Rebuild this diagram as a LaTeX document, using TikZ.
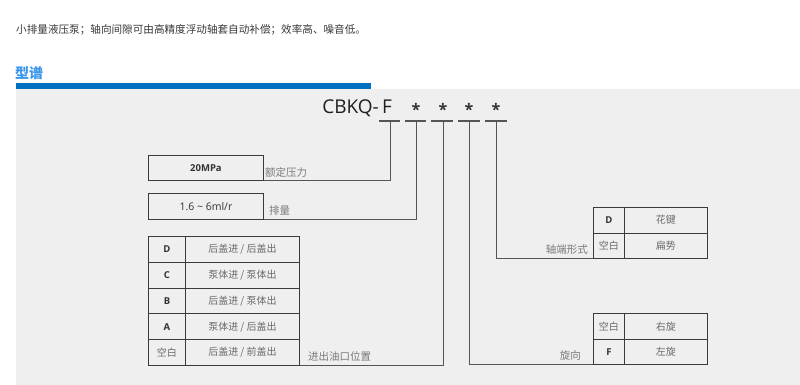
\documentclass[tikz,border=0pt]{standalone}
\usepackage{fontspec}
\setmainfont{Open Sans}
\newfontfamily\cjk{Noto Sans CJK SC}
\definecolor{bggray}{HTML}{EFEFEF}
\definecolor{barblue}{HTML}{0070C0}
\definecolor{titleblue}{HTML}{3A96EA}
\definecolor{linecol}{HTML}{3A3A3A}
\definecolor{vlinecol}{HTML}{555555}
\definecolor{lblcol}{HTML}{7A7A7A}
\definecolor{celltxt}{HTML}{6A6A6A}
\definecolor{lettxt}{HTML}{333333}
\tikzset{
  cell/.style={draw=linecol, line width=0.9pt, inner sep=0pt, anchor=north west, minimum height=25.8pt},
  celltext/.style={font=\cjk\fontsize{10}{12}\selectfont, text=celltxt},
  lettext/.style={font=\fontsize{9.5}{12}\selectfont\bfseries, text=lettxt},
  lbl/.style={font=\cjk\fontsize{10.5}{12}\selectfont, text=lblcol, inner sep=0pt},
  conn/.style={draw=vlinecol, line width=1pt},
  uline/.style={draw=vlinecol, line width=1.2pt},
  star/.style={font=\fontsize{16}{16}\selectfont\bfseries, text=lettxt, inner sep=0pt}
}
\begin{document}
\begin{tikzpicture}[x=1pt,y=-1pt]
\useasboundingbox (0,0) rectangle (800,385);
\fill[white] (0,0) rectangle (800,385);
% gray panel
\fill[bggray] (16,89) rectangle (800,385);
% blue bar
\fill[barblue] (16,83) rectangle (371,89);
% header texts
\node[anchor=west, inner sep=0pt, font=\cjk\fontsize{10.6}{12}\selectfont, text=black!78] (intro) at (16,30) {小排量液压泵；轴向间隙可由高精度浮动轴套自动补偿；效率高、噪音低。};
\node[anchor=west, inner sep=0pt, font=\cjk\fontsize{14}{16}\selectfont\bfseries, text=titleblue] (title) at (15,73) {型谱};
% model code
\node[anchor=east, inner sep=0pt, font=\fontsize{19}{20}\selectfont, text=black!88] (code) at (392,108) {CBKQ-\,F};
\node[star] (st1) at (416,109) {*};
\node[star] (st2) at (443,109) {*};
\node[star] (st3) at (469,109) {*};
\node[star] (st4) at (496,109) {*};
% underline segments
\coordinate (a1) at (379,121); \coordinate (b1) at (400,121);
\coordinate (a2) at (405,121); \coordinate (b2) at (426,121);
\coordinate (a3) at (431,121); \coordinate (b3) at (453,121);
\coordinate (a4) at (458,121); \coordinate (b4) at (480,121);
\coordinate (a5) at (485,121); \coordinate (b5) at (507,121);
\foreach \i in {1,...,5} \draw[uline] (a\i) -- (b\i);
\coordinate (u1) at (390,121);
\coordinate (u2) at (416,121);
\coordinate (u3) at (443,121);
\coordinate (u4) at (469,121);
\coordinate (u5) at (496,121);
% pressure box
\node[cell, minimum width=115pt, minimum height=25pt, font=\fontsize{9.5}{10}\selectfont\bfseries, text=lettxt] (pbox) at (148,155) {20MPa};
\node[lbl, anchor=west] (plbl) at (265,172) {额定压力};
% displacement box
\node[cell, minimum width=115pt, minimum height=26pt, font=\fontsize{10.5}{12}\selectfont, text=lettxt] (dbox) at (148,193) {1.6 \textasciitilde\ 6ml/r};
\node[lbl, anchor=west] (dlbl) at (269,211) {排量};
% port table
\node[cell, minimum width=37pt, lettext] (pk1) at (148,236) {D};
\node[cell, minimum width=114pt, celltext] (pv1) at (185,236) {后盖进 / 后盖出};
\node[cell, minimum width=37pt, lettext] (pk2) at (148,261.8) {C};
\node[cell, minimum width=114pt, celltext] (pv2) at (185,261.8) {泵体进 / 泵体出};
\node[cell, minimum width=37pt, lettext] (pk3) at (148,287.6) {B};
\node[cell, minimum width=114pt, celltext] (pv3) at (185,287.6) {后盖进 / 泵体出};
\node[cell, minimum width=37pt, lettext] (pk4) at (148,313.4) {A};
\node[cell, minimum width=114pt, celltext] (pv4) at (185,313.4) {泵体进 / 后盖出};
\node[cell, minimum width=37pt, celltext] (pk5) at (148,339.2) {空白};
\node[cell, minimum width=114pt, celltext] (pv5) at (185,339.2) {后盖进 / 前盖出};
\node[lbl, anchor=west] (portlbl) at (308,356) {进出油口位置};
% shaft table
\node[cell, minimum width=31pt, minimum height=25.5pt, lettext] (sk1) at (593,207) {D};
\node[cell, minimum width=83pt, minimum height=25.5pt, celltext] (sv1) at (624,207) {花键};
\node[cell, minimum width=31pt, minimum height=25.5pt, celltext] (sk2) at (593,232.5) {空白};
\node[cell, minimum width=83pt, minimum height=25.5pt, celltext] (sv2) at (624,232.5) {扁势};
\node[lbl, anchor=east] (shaftlbl) at (588,250) {轴端形式};
% rotation table
\node[cell, minimum width=31pt, minimum height=25.5pt, celltext] (rk1) at (593,313) {空白};
\node[cell, minimum width=83pt, minimum height=25.5pt, celltext] (rv1) at (624,313) {右旋};
\node[cell, minimum width=31pt, minimum height=25.5pt, lettext] (rk2) at (593,338.5) {F};
\node[cell, minimum width=83pt, minimum height=25.5pt, celltext] (rv2) at (624,338.5) {左旋};
\node[lbl, anchor=east] (rotlbl) at (581,355) {旋向};
% connectors
\draw[conn] (u1) |- (pbox.south east);
\draw[conn] (u2) |- (dbox.south east);
\draw[conn] (u3) |- (pv5.south east);
\draw[conn] (u4) |- (rk2.south west);
\draw[conn] (u5) |- (sk2.south west);
\end{tikzpicture}
\end{document}
